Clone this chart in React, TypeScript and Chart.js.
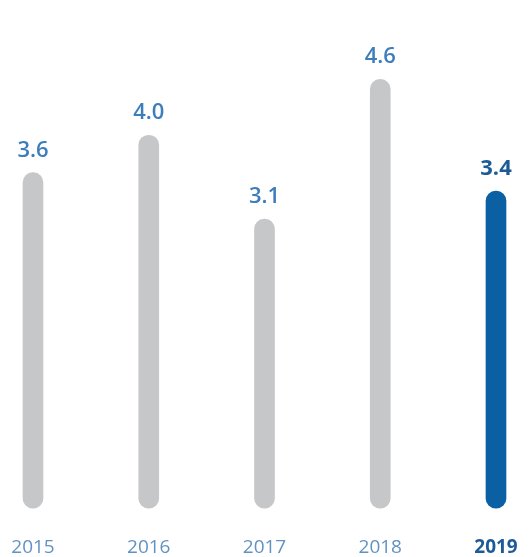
import React, { useEffect, useRef } from "react";
import { Chart, registerables } from "chart.js";

Chart.register(...registerables);

const years = ["2015", "2016", "2017", "2018", "2019"];
const values = [3.6, 4.0, 3.1, 4.6, 3.4];
const valueLabels = ["3.6", "4.0", "3.1", "4.6", "3.4"];
const highlightIndex = 4;

const GREY = "#c6c7c9";
const BLUE = "#0b5fa3";
const LABEL_BLUE = "#3d7dba";
const LABEL_DARK = "#1d5b98";
const YEAR_BLUE = "#6193c2";
const FONT = "'Open Sans', 'DejaVu Sans', sans-serif";

// Value captions drawn above each bar, positioned from the y scale
const valueLabelPlugin = {
  id: "valueLabels",
  afterDatasetsDraw(chart: any) {
    const { ctx } = chart;
    const meta = chart.getDatasetMeta(0);
    const yScale = chart.scales.y;
    ctx.save();
    ctx.textAlign = "center";
    ctx.textBaseline = "alphabetic";
    meta.data.forEach((bar: any, i: number) => {
      const top = yScale.getPixelForValue(values[i]);
      const hi = i === highlightIndex;
      ctx.font = `${hi ? 700 : 600} 22px ${FONT}`;
      ctx.fillStyle = hi ? LABEL_DARK : LABEL_BLUE;
      ctx.fillText(valueLabels[i], bar.x, top - 16);
    });
    ctx.restore();
  },
};

export default function App() {
  const canvasRef = useRef<HTMLCanvasElement | null>(null);

  useEffect(() => {
    if (!canvasRef.current) return;
    const chart = new Chart(canvasRef.current, {
      type: "bar",
      data: {
        labels: years,
        datasets: [
          {
            data: values,
            backgroundColor: values.map((_, i) => (i === highlightIndex ? BLUE : GREY)),
            borderRadius: 10,
            borderSkipped: false,
            barThickness: 20,
            clip: false as any,
          },
        ],
      },
      options: {
        animation: false,
        responsive: false,
        maintainAspectRatio: false,
        events: [],
        layout: { padding: { top: 42, left: 33, right: 36, bottom: 0 } },
        plugins: {
          legend: { display: false },
          tooltip: { enabled: false },
        },
        scales: {
          x: {
            offset: false,
            grid: { display: false },
            border: { display: false },
            // keep the edge labels from widening the side margins
            afterFit: (scale: any) => {
              scale.paddingLeft = 0;
              scale.paddingRight = 0;
            },
            ticks: {
              padding: 20,
              maxRotation: 0,
              autoSkip: false,
              color: (c: any) => (c.index === highlightIndex ? LABEL_DARK : YEAR_BLUE),
              font: (c: any) => ({
                family: FONT,
                size: 19,
                weight: c.index === highlightIndex ? "bold" : "normal",
              }),
            },
          },
          y: {
            display: false,
            min: 0,
            max: 5,
          },
        },
      },
      plugins: [valueLabelPlugin],
    });
    return () => chart.destroy();
  }, []);

  return (
    <div
      style={{
        position: "fixed",
        left: 0,
        top: 0,
        width: 532,
        height: 557,
        background: "#ffffff",
        overflow: "hidden",
      }}
    >
      <canvas ref={canvasRef} width={532} height={579} style={{ display: "block" }} />
    </div>
  );
}
